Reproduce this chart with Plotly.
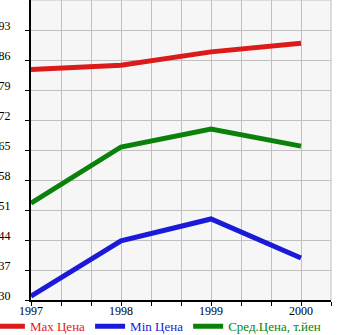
import plotly.graph_objects as go

years = [1997, 1998, 1999, 2000]
max_price = [83.8, 84.8, 87.9, 89.9]
min_price = [30.9, 43.8, 48.9, 39.8]
avg_price = [52.6, 65.7, 69.9, 65.9]
y_ticks = [30, 37, 44, 51, 58, 65, 72, 79, 86, 93]

series = [
    ("Max Цена", max_price, "#dd1a1a"),
    ("Min Цена", min_price, "#1a1ad8"),
    ("Сред.Цена, т.йен", avg_price, "#0a820a"),
]

fig = go.Figure()
for name, vals, col in series:
    fig.add_trace(go.Scatter(
        x=years, y=vals, mode="lines",
        name=f'<span style="color:{col}">{name}</span>',
        line=dict(color=col, width=5),
    ))

font = dict(family="Liberation Serif, Times New Roman, serif", size=12, color="#000")
minor_x = [1997 + i / 3 for i in range(11)]

fig.update_layout(
    width=345, height=335,
    margin=dict(l=31, r=14, t=0, b=35, autoexpand=False),
    plot_bgcolor="#f6f6f6", paper_bgcolor="#ffffff",
    font=font,
    showlegend=True,
    legend=dict(orientation="h", x=-0.137, y=-0.038, xanchor="left", yanchor="top",
                font=dict(family="Liberation Serif, serif", size=13),
                itemwidth=30, tracegroupgap=0, bgcolor="rgba(0,0,0,0)"),
    xaxis=dict(range=[1997, 2000 + 1/3], tickvals=years, ticktext=[str(y) for y in years],
               showgrid=True, gridcolor="#c0c0c0", gridwidth=1,
               showline=True, linecolor="#000", linewidth=2,
               ticks="outside", ticklen=4, tickcolor="#000",
               ticklabelstandoff=-5,
               minor=dict(tickvals=minor_x, ticks="outside", ticklen=4, tickcolor="#000",
                          showgrid=True, gridcolor="#c0c0c0", gridwidth=1),
               zeroline=False, fixedrange=True),
    yaxis=dict(range=[30, 100], tickvals=y_ticks, ticktext=[str(v) for v in y_ticks],
               showgrid=True, gridcolor="#c0c0c0", gridwidth=1,
               showline=True, linecolor="#000", linewidth=2,
               ticks="outside", ticklen=4, tickcolor="#000",
               ticklabelstandoff=12, ticklabelshift=-4,
               zeroline=False, fixedrange=True),
    shapes=[dict(type="line", xref="paper", yref="paper", x0=0, x1=1, y0=1, y1=1,
                 line=dict(color="#c0c0c0", width=1)),
            dict(type="line", xref="paper", yref="paper", x0=1, x1=1, y0=0, y1=1,
                 line=dict(color="#c0c0c0", width=1))],
)

fig.write_html("out.html")
